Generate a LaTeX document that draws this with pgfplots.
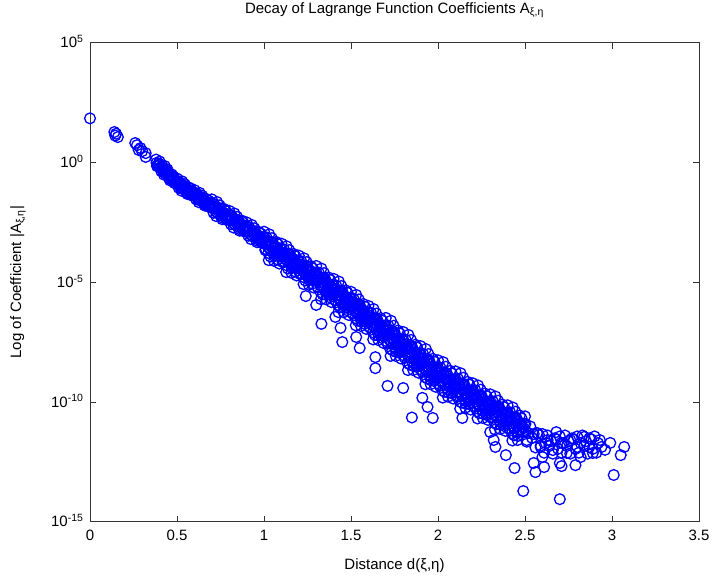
\documentclass[border=0pt]{standalone}
\usepackage{fontspec}
\setmainfont{Liberation Sans}
\usepackage{pgfplots}
\pgfplotsset{compat=1.18}
\newcommand{\lf}{\fontsize{15}{17}\selectfont}
\pgfplotsset{ring/.style={only marks, mark=o, mark size=5.4pt, blue, mark options={draw=blue, fill=none, line width=1.3pt}}}
\begin{document}
\begin{tikzpicture}
\begin{axis}[name=ax, at={(0,0)}, anchor=south west,
  scale only axis, width=609pt, height=479pt,
  xmin=0, xmax=3.5, ymin=-15, ymax=5,
  xtick={0,0.5,1,1.5,2,2.5,3,3.5},
  xticklabels={0,0.5,1,1.5,2,2.5,3,3.5},
  ytick={-15,-10,-5,0,5},
  yticklabels={10\textsuperscript{-15},10\textsuperscript{-10},10\textsuperscript{-5},10\textsuperscript{0},10\textsuperscript{5}},
  tick align=inside, major tick length=6pt,
  minor tick num=0,
  tick style={black!80, line width=0.8pt},
  axis line style={black!80, line width=0.9pt},
  xticklabel style={font=\lf, yshift=-5pt},
  yticklabel style={font=\lf, anchor=base east, xshift=-3pt, yshift=-5.2pt},
  title={Decay of Lagrange Function Coefficients A\textsubscript{ξ,η}},
  title style={font=\lf, at={(0.5,1)}, anchor=base, yshift=23.5pt},
  xlabel={Distance d(ξ,η)},
  xlabel style={font=\lf, at={(0.5,0)}, anchor=base, yshift=-47.5pt},
  ylabel={Log of Coefficient |A\textsubscript{ξ,η}|},
  ylabel style={font=\lf, at={(-0.1182,0.5)}, anchor=center},
  clip=false,
]
\addplot[ring] coordinates {
(0,1.84) (0.14,1.27) (0.145,1.12) (0.15,1.20) (0.16,1.06)
(0.26,0.81) (0.27,0.72) (0.28,0.52) (0.29,0.60) (0.30,0.47) (0.32,0.39) (0.32,0.23)
(0.38,0.12) (0.385,-0.15) (0.39,-0.15) (0.395,-0.04) (0.40,0.04) (0.405,-0.21)
(0.41,-0.37) (0.415,-0.14) (0.42,-0.24) (0.425,-0.51) (0.43,-0.15) (0.435,-0.48)
(0.44,-0.44) (0.445,-0.29) (0.45,-0.42) (0.455,-0.67) (0.46,-0.75) (0.465,-0.58)
(0.47,-0.50) (0.475,-0.73) (0.48,-0.59) (0.485,-0.86) (0.49,-0.86) (0.495,-0.75)
(0.50,-0.67) (0.505,-0.92) (0.51,-1.06) (0.515,-0.83) (0.52,-0.91) (0.525,-1.18)
(0.53,-0.79) (0.535,-1.12) (0.54,-1.06) (0.545,-0.91) (0.55,-1.01) (0.555,-1.26)
(0.56,-1.32) (0.565,-1.15) (0.57,-1.05) (0.575,-1.28) (0.58,-1.11) (0.585,-1.38)
(0.59,-1.36) (0.595,-1.25) (0.60,-1.15) (0.605,-1.40) (0.61,-1.54) (0.615,-1.31)
(0.62,-1.39) (0.625,-1.66) (0.63,-1.27) (0.635,-1.60) (0.64,-1.54) (0.645,-1.39)
(0.65,-1.49) (0.655,-1.74) (0.66,-1.80) (0.665,-1.63) (0.67,-1.53) (0.675,-1.76)
(0.68,-1.59) (0.685,-1.86) (0.69,-1.84) (0.695,-1.73)
(0.70,-1.54) (0.705,-1.90) (0.71,-2.10) (0.715,-1.74) (0.72,-1.85) (0.725,-2.24)
(0.73,-1.65) (0.735,-2.13) (0.74,-2.03) (0.745,-1.79) (0.75,-1.93) (0.755,-2.29)
(0.76,-2.37) (0.765,-2.10) (0.77,-1.94) (0.775,-2.27) (0.78,-2.01) (0.785,-2.40)
(0.79,-2.36) (0.795,-2.18) (0.80,-2.02) (0.805,-2.38) (0.81,-2.58) (0.815,-2.22)
(0.82,-2.33) (0.825,-2.72) (0.83,-2.13) (0.835,-2.61) (0.84,-2.51) (0.845,-2.27)
(0.85,-2.41) (0.855,-2.77) (0.86,-2.85) (0.865,-2.58) (0.87,-2.42) (0.875,-2.75)
(0.88,-2.49) (0.885,-2.88) (0.89,-2.84) (0.895,-2.66) (0.90,-2.50) (0.905,-2.86)
(0.91,-3.06) (0.915,-2.70) (0.92,-2.81) (0.925,-3.20) (0.93,-2.61) (0.935,-3.09)
(0.94,-2.99) (0.945,-2.75) (0.95,-2.89) (0.955,-3.25) (0.96,-3.33) (0.965,-3.06)
(0.97,-2.90) (0.975,-3.23) (0.98,-2.97) (0.985,-3.36) (0.99,-3.32) (0.995,-3.14)
(1.00,-2.89) (1.005,-3.36) (1.01,-3.62) (1.015,-3.13) (1.02,-3.27) (1.025,-3.78)
(1.03,-3.00) (1.035,-3.63) (1.04,-3.49) (1.045,-3.16) (1.05,-3.34) (1.055,-3.81)
(1.06,-3.91) (1.065,-3.54) (1.07,-3.32) (1.075,-3.75) (1.08,-3.41) (1.085,-3.92)
(1.09,-3.86) (1.095,-3.61) (1.10,-3.39) (1.105,-3.86) (1.11,-4.12) (1.115,-3.63)
(1.12,-3.77) (1.125,-4.28) (1.13,-3.50) (1.135,-4.13) (1.14,-3.99) (1.145,-3.66)
(1.15,-3.84) (1.155,-4.31) (1.16,-4.41) (1.165,-4.04) (1.17,-3.82) (1.175,-4.25)
(1.18,-3.91) (1.185,-4.42) (1.19,-4.36) (1.195,-4.11) (1.20,-3.89) (1.205,-4.36)
(1.21,-4.62) (1.215,-4.13) (1.22,-4.27) (1.225,-4.78) (1.23,-4.00) (1.235,-4.63)
(1.24,-4.49) (1.245,-4.16) (1.25,-4.34) (1.255,-4.81) (1.26,-4.91) (1.265,-4.54)
(1.27,-4.33) (1.275,-4.76) (1.28,-4.42) (1.285,-4.93) (1.29,-4.88) (1.295,-4.63)
(1.30,-4.32) (1.305,-4.90) (1.31,-5.22) (1.315,-4.60) (1.32,-4.78) (1.325,-5.41)
(1.33,-4.43) (1.335,-5.21) (1.34,-5.04) (1.345,-4.62) (1.35,-4.84) (1.355,-5.42)
(1.36,-5.54) (1.365,-5.07) (1.37,-4.80) (1.375,-5.33) (1.38,-4.90) (1.385,-5.53)
(1.39,-5.46) (1.395,-5.14) (1.40,-4.86) (1.405,-5.44) (1.41,-5.76) (1.415,-5.14)
(1.42,-5.32) (1.425,-5.95) (1.43,-4.97) (1.435,-5.75) (1.44,-5.58) (1.445,-5.16)
(1.45,-5.38) (1.455,-5.96) (1.46,-6.08) (1.465,-5.61) (1.47,-5.34) (1.475,-5.87)
(1.48,-5.44) (1.485,-6.07) (1.49,-6.00) (1.495,-5.68) (1.50,-5.40) (1.505,-5.98)
(1.51,-6.31) (1.515,-5.69) (1.52,-5.87) (1.525,-6.50) (1.53,-5.53) (1.535,-6.31)
(1.54,-6.14) (1.545,-5.72) (1.55,-5.95) (1.555,-6.53) (1.56,-6.65) (1.565,-6.18)
(1.57,-5.91) (1.575,-6.44) (1.58,-6.02) (1.585,-6.65) (1.59,-6.58) (1.595,-6.26)
(1.60,-5.99) (1.605,-6.57) (1.61,-6.90) (1.615,-6.28) (1.62,-6.46) (1.625,-7.09)
(1.63,-6.12) (1.635,-6.90) (1.64,-6.73) (1.645,-6.31) (1.65,-6.54) (1.655,-7.12)
(1.66,-7.24) (1.665,-6.77) (1.67,-6.50) (1.675,-7.03) (1.68,-6.61) (1.685,-7.24)
(1.69,-7.17) (1.695,-6.85)
(1.70,-6.49) (1.705,-7.18) (1.71,-7.57) (1.715,-6.82) (1.72,-7.03) (1.725,-7.78)
(1.73,-6.61) (1.735,-7.54) (1.74,-7.33) (1.745,-6.82) (1.75,-7.09) (1.755,-7.78)
(1.76,-7.92) (1.765,-7.35) (1.77,-7.02) (1.775,-7.65) (1.78,-7.14) (1.785,-7.89)
(1.79,-7.80) (1.795,-7.41) (1.80,-7.08) (1.805,-7.77) (1.81,-8.16) (1.815,-7.41)
(1.82,-7.62) (1.825,-8.37) (1.83,-7.20) (1.835,-8.13) (1.84,-7.92) (1.845,-7.41)
(1.85,-7.68) (1.855,-8.37) (1.86,-8.51) (1.865,-7.94) (1.87,-7.61) (1.875,-8.24)
(1.88,-7.73) (1.885,-8.48) (1.89,-8.39) (1.895,-8.00) (1.90,-7.67) (1.905,-8.36)
(1.91,-8.75) (1.915,-8.00) (1.92,-8.21) (1.925,-8.96) (1.93,-7.79) (1.935,-8.72)
(1.94,-8.51) (1.945,-8.00) (1.95,-8.27) (1.955,-8.96) (1.96,-9.10) (1.965,-8.53)
(1.97,-8.20) (1.975,-8.83) (1.98,-8.32) (1.985,-9.07) (1.99,-8.98) (1.995,-8.59)
(2.00,-8.26) (2.005,-8.95) (2.01,-9.33) (2.015,-8.58) (2.02,-8.77) (2.025,-9.52)
(2.03,-8.34) (2.035,-9.27) (2.04,-9.04) (2.045,-8.53) (2.05,-8.79) (2.055,-9.48)
(2.06,-9.62) (2.065,-9.05) (2.07,-8.70) (2.075,-9.33) (2.08,-8.81) (2.085,-9.56)
(2.09,-9.45) (2.095,-9.06) (2.10,-8.72) (2.105,-9.41) (2.11,-9.79) (2.115,-9.04)
(2.12,-9.23) (2.125,-9.98) (2.13,-8.80) (2.135,-9.73) (2.14,-9.50) (2.145,-8.99)
(2.15,-9.25) (2.155,-9.94) (2.16,-10.08) (2.165,-9.51) (2.17,-9.16) (2.175,-9.79)
(2.18,-9.27) (2.185,-10.02) (2.19,-9.91) (2.195,-9.52)
(2.20,-9.22) (2.205,-9.86) (2.21,-10.21) (2.215,-9.52) (2.22,-9.70) (2.225,-10.39)
(2.23,-9.31) (2.235,-10.17) (2.24,-9.96) (2.245,-9.49) (2.25,-9.73) (2.255,-10.37)
(2.26,-10.50) (2.265,-9.97) (2.27,-9.65) (2.275,-10.24) (2.28,-9.76) (2.285,-10.45)
(2.29,-10.35) (2.295,-9.99) (2.30,-9.68) (2.305,-10.32) (2.31,-10.67) (2.315,-9.98)
(2.32,-10.16) (2.325,-10.85) (2.33,-9.77) (2.335,-10.63) (2.34,-10.42) (2.345,-9.95)
(2.35,-10.19) (2.355,-10.83) (2.36,-10.96) (2.365,-10.43) (2.37,-10.11) (2.375,-10.70)
(2.38,-10.22) (2.385,-10.91) (2.39,-10.81) (2.395,-10.45) (2.40,-10.14) (2.405,-10.78)
(2.41,-11.13) (2.415,-10.44) (2.42,-10.62) (2.425,-11.31) (2.43,-10.23) (2.435,-11.09)
(2.44,-10.88) (2.445,-10.41) (2.45,-10.65) (2.455,-11.29) (2.46,-11.42) (2.465,-10.89)
(2.47,-10.57) (2.475,-11.16) (2.48,-10.68) (2.485,-11.37) (2.49,-11.27) (2.495,-10.91)
(2.50,-10.60) (2.505,-11.24)
(2.51,-11.66) (2.52,-11.30) (2.53,-11.02) (2.54,-11.50) (2.55,-11.34) (2.56,-11.90)
(2.57,-11.30) (2.58,-11.38) (2.59,-11.82) (2.60,-11.34) (2.61,-12.12) (2.62,-11.72)
(2.63,-11.40) (2.64,-11.84) (2.65,-11.64) (2.66,-12.16) (2.67,-11.52) (2.68,-11.56)
(2.69,-11.96) (2.70,-11.44) (2.71,-12.12) (2.72,-11.72) (2.73,-11.40) (2.74,-11.84)
(2.75,-11.64) (2.76,-12.16) (2.77,-11.52) (2.78,-11.56) (2.79,-11.96) (2.80,-11.44)
(2.81,-12.12) (2.82,-11.72) (2.83,-11.40) (2.84,-11.84) (2.85,-11.64) (2.86,-12.16)
(2.87,-11.52) (2.88,-11.56) (2.89,-11.96) (2.90,-11.44) (2.91,-12.12) (2.92,-11.72)
(2.51,-11.59) (2.57,-11.30) (2.59,-11.88) (2.63,-11.59) (2.68,-11.26) (2.66,-12.01)
(2.71,-11.71) (2.74,-12.13) (2.76,-11.59) (2.80,-11.88) (2.82,-12.30) (2.84,-11.46)
(2.87,-11.88) (2.89,-12.13) (2.93,-11.59) (2.94,-11.88) (2.96,-12.00) (2.99,-11.71)
(3.05,-12.22) (3.07,-11.88)
(1.24,-5.58) (1.30,-5.95) (1.33,-6.74) (1.41,-6.45) (1.44,-6.91) (1.45,-7.50)
(1.53,-7.29) (1.55,-7.75) (1.64,-8.13) (1.64,-8.59) (1.71,-9.33) (1.80,-9.42)
(1.85,-10.65) (1.91,-9.83) (1.94,-10.21) (1.97,-10.67) (2.14,-10.67) (2.30,-11.26)
(2.32,-11.59) (2.33,-11.88) (2.39,-12.22) (2.44,-12.76) (2.49,-13.72) (2.55,-12.55)
(2.56,-12.93) (2.60,-12.30) (2.61,-12.72) (2.70,-12.55) (2.71,-12.68) (2.79,-12.64)
(2.70,-14.06) (3.01,-13.05)
};
\addplot[ring] coordinates {
(0.3825,-0.02) (0.3925,-0.10) (0.4025,-0.09) (0.4125,-0.26) (0.4225,-0.38)
(0.4325,-0.32) (0.4425,-0.37) (0.4525,-0.55) (0.4625,-0.67) (0.4725,-0.62)
(0.4825,-0.73) (0.4925,-0.81) (0.5025,-0.80) (0.5125,-0.95) (0.5225,-1.05)
(0.5325,-0.96) (0.5425,-0.99) (0.5525,-1.14) (0.5625,-1.24) (0.5725,-1.17)
(0.5825,-1.25) (0.5925,-1.31) (0.6025,-1.28) (0.6125,-1.43) (0.6225,-1.53)
(0.6325,-1.44) (0.6425,-1.47) (0.6525,-1.62) (0.6625,-1.72) (0.6725,-1.65)
(0.6825,-1.73) (0.6925,-1.79) (0.7025,-1.72) (0.7125,-1.92) (0.7225,-2.05)
(0.7325,-1.89) (0.7425,-1.91) (0.7525,-2.11) (0.7625,-2.24) (0.7725,-2.11)
(0.7825,-2.21) (0.7925,-2.27) (0.8025,-2.20) (0.8125,-2.40) (0.8225,-2.53)
(0.8325,-2.37) (0.8425,-2.39) (0.8525,-2.59) (0.8625,-2.72) (0.8725,-2.59)
(0.8825,-2.69) (0.8925,-2.75) (0.9025,-2.68) (0.9125,-2.88) (0.9225,-3.01)
(0.9325,-2.85) (0.9425,-2.87) (0.9525,-3.07) (0.9625,-3.20) (0.9725,-3.07)
(0.9825,-3.17) (0.9925,-3.23) (1.0025,-3.13) (1.0125,-3.38) (1.0225,-3.53)
(1.0325,-3.32) (1.0425,-3.33) (1.0525,-3.58) (1.0625,-3.73) (1.0725,-3.54)
(1.0825,-3.67) (1.0925,-3.74) (1.1025,-3.63) (1.1125,-3.88) (1.1225,-4.03)
(1.1325,-3.82) (1.1425,-3.83) (1.1525,-4.08) (1.1625,-4.23) (1.1725,-4.04)
(1.1825,-4.17) (1.1925,-4.24) (1.2025,-4.13) (1.2125,-4.38) (1.2225,-4.53)
(1.2325,-4.32) (1.2425,-4.33) (1.2525,-4.58) (1.2625,-4.73) (1.2725,-4.55)
(1.2825,-4.68) (1.2925,-4.76) (1.3025,-4.61) (1.3125,-4.91) (1.3225,-5.10)
(1.3325,-4.82) (1.3425,-4.83) (1.3525,-5.13) (1.3625,-5.31) (1.3725,-5.07)
(1.3825,-5.22) (1.3925,-5.30) (1.4025,-5.15) (1.4125,-5.45) (1.4225,-5.64)
(1.4325,-5.36) (1.4425,-5.37) (1.4525,-5.67) (1.4625,-5.85) (1.4725,-5.61)
(1.4825,-5.76) (1.4925,-5.84) (1.5025,-5.69) (1.5125,-6.00) (1.5225,-6.19)
(1.5325,-5.92) (1.5425,-5.93) (1.5525,-6.24) (1.5625,-6.42) (1.5725,-6.18)
(1.5825,-6.34) (1.5925,-6.42) (1.6025,-6.28) (1.6125,-6.59) (1.6225,-6.78)
(1.6325,-6.51) (1.6425,-6.52) (1.6525,-6.83) (1.6625,-7.01) (1.6725,-6.77)
(1.6825,-6.93) (1.6925,-7.01) (1.7025,-6.84) (1.7125,-7.20) (1.7225,-7.41)
(1.7325,-7.08) (1.7425,-7.08) (1.7525,-7.44) (1.7625,-7.64) (1.7725,-7.34)
(1.7825,-7.52) (1.7925,-7.61) (1.8025,-7.43) (1.8125,-7.79) (1.8225,-8.00)
(1.8325,-7.67) (1.8425,-7.67) (1.8525,-8.03) (1.8625,-8.23) (1.8725,-7.93)
(1.8825,-8.11) (1.8925,-8.20) (1.9025,-8.02) (1.9125,-8.38) (1.9225,-8.59)
(1.9325,-8.26) (1.9425,-8.26) (1.9525,-8.62) (1.9625,-8.82) (1.9725,-8.52)
(1.9825,-8.70) (1.9925,-8.79) (2.0025,-8.61) (2.0125,-8.96) (2.0225,-9.15)
(2.0325,-8.81) (2.0425,-8.79) (2.0525,-9.14) (2.0625,-9.34) (2.0725,-9.02)
(2.0825,-9.19) (2.0925,-9.26) (2.1025,-9.07) (2.1125,-9.42) (2.1225,-9.61)
(2.1325,-9.27) (2.1425,-9.25) (2.1525,-9.60) (2.1625,-9.80) (2.1725,-9.48)
(2.1825,-9.65) (2.1925,-9.72) (2.2025,-9.54) (2.2125,-9.87) (2.2225,-10.05)
(2.2325,-9.74) (2.2425,-9.73) (2.2525,-10.05) (2.2625,-10.24) (2.2725,-9.95)
(2.2825,-10.11) (2.2925,-10.17) (2.3025,-10.00) (2.3125,-10.33) (2.3225,-10.51)
(2.3325,-10.20) (2.3425,-10.19) (2.3525,-10.51) (2.3625,-10.70) (2.3725,-10.41)
(2.3825,-10.57) (2.3925,-10.63) (2.4025,-10.46) (2.4125,-10.79) (2.4225,-10.97)
(2.4325,-10.66) (2.4425,-10.65) (2.4525,-10.97) (2.4625,-11.16) (2.4725,-10.87)
(2.4825,-11.03) (2.4925,-11.09) (2.5025,-10.92)
};
\addplot[ring] coordinates {
(1.0075,-3.66) (1.0175,-3.43) (1.0275,-4.08) (1.0375,-3.93) (1.0475,-3.46)
(1.0575,-4.11) (1.0675,-3.84) (1.0775,-4.05) (1.0875,-4.22) (1.0975,-3.91)
(1.1075,-4.16) (1.1175,-3.93) (1.1275,-4.58) (1.1375,-4.43) (1.1475,-3.96)
(1.1575,-4.61) (1.1675,-4.34) (1.1775,-4.55) (1.1875,-4.72) (1.1975,-4.41)
(1.2075,-4.66) (1.2175,-4.43) (1.2275,-5.08) (1.2375,-4.93) (1.2475,-4.46)
(1.2575,-5.11) (1.2675,-4.84) (1.2775,-5.06) (1.2875,-5.23) (1.2975,-4.93)
(1.3075,-5.20) (1.3175,-4.90) (1.3275,-5.71) (1.3375,-5.51) (1.3475,-4.92)
(1.3575,-5.72) (1.3675,-5.37) (1.3775,-5.63) (1.3875,-5.83) (1.3975,-5.44)
(1.4075,-5.74) (1.4175,-5.44) (1.4275,-6.25) (1.4375,-6.05) (1.4475,-5.46)
(1.4575,-6.26) (1.4675,-5.91) (1.4775,-6.17) (1.4875,-6.37) (1.4975,-5.98)
(1.5075,-6.28) (1.5175,-5.99) (1.5275,-6.80) (1.5375,-6.61) (1.5475,-6.02)
(1.5575,-6.83) (1.5675,-6.48) (1.5775,-6.74) (1.5875,-6.95) (1.5975,-6.56)
(1.6075,-6.87) (1.6175,-6.58) (1.6275,-7.39) (1.6375,-7.20) (1.6475,-6.61)
(1.6575,-7.42) (1.6675,-7.07) (1.6775,-7.33) (1.6875,-7.54) (1.6975,-7.15)
(1.7075,-7.48) (1.7175,-7.12) (1.7275,-8.08) (1.7375,-7.84) (1.7475,-7.12)
(1.7575,-8.08) (1.7675,-7.65) (1.7775,-7.95) (1.7875,-8.19) (1.7975,-7.71)
(1.8075,-8.07) (1.8175,-7.71) (1.8275,-8.67) (1.8375,-8.43) (1.8475,-7.71)
(1.8575,-8.67) (1.8675,-8.24) (1.8775,-8.54) (1.8875,-8.78) (1.8975,-8.30)
(1.9075,-8.66) (1.9175,-8.30) (1.9275,-9.26) (1.9375,-9.02) (1.9475,-8.30)
(1.9575,-9.26) (1.9675,-8.83) (1.9775,-9.13) (1.9875,-9.37) (1.9975,-8.89)
(2.0075,-9.25) (2.0175,-8.88) (2.0275,-9.82) (2.0375,-9.57) (2.0475,-8.83)
(2.0575,-9.78) (2.0675,-9.35) (2.0775,-9.63) (2.0875,-9.86) (2.0975,-9.36)
(2.1075,-9.71) (2.1175,-9.34) (2.1275,-10.28) (2.1375,-10.03) (2.1475,-9.29)
(2.1575,-10.24) (2.1675,-9.81) (2.1775,-10.09) (2.1875,-10.32) (2.1975,-9.82)
(2.2075,-10.16) (2.2175,-9.82) (2.2275,-10.69) (2.2375,-10.47) (2.2475,-9.79)
(2.2575,-10.67) (2.2675,-10.27) (2.2775,-10.54) (2.2875,-10.75) (2.2975,-10.29)
(2.3075,-10.62) (2.3175,-10.28) (2.3275,-11.15) (2.3375,-10.93) (2.3475,-10.25)
(2.3575,-11.13) (2.3675,-10.73) (2.3775,-11.00) (2.3875,-11.21) (2.3975,-10.75)
(2.4075,-11.08) (2.4175,-10.74) (2.4275,-11.61) (2.4375,-11.39) (2.4475,-10.71)
(2.4575,-11.59)
};
\end{axis}
\pgfresetboundingbox
\path[use as bounding box] ([xshift=-90pt,yshift=-60.3pt]ax.south west) rectangle ([xshift=13pt,yshift=42.7pt]ax.north east);
\end{tikzpicture}
\end{document}
